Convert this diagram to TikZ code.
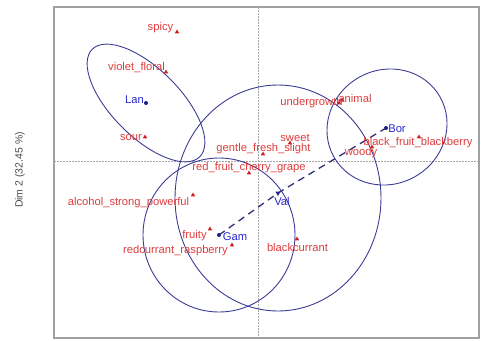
\documentclass[tikz,border=0pt]{standalone}
\usepackage{fontspec}
\setmainfont{Liberation Sans}
\usetikzlibrary{shapes.geometric}
\definecolor{labred}{RGB}{222,60,60}
\definecolor{ptred}{RGB}{200,30,30}
\definecolor{labblue}{RGB}{40,40,205}
\definecolor{ellblue}{RGB}{60,60,150}
\definecolor{framegray}{RGB}{160,160,160}
\tikzset{
  lab/.style={text=labred, font=\fontsize{11.2}{12}\selectfont, inner sep=0pt},
  blab/.style={text=labblue, font=\fontsize{11.2}{12}\selectfont, inner sep=0pt},
  tri/.style={regular polygon, regular polygon sides=3, fill=ptred, inner sep=0pt, minimum size=5pt},
  dotpt/.style={circle, fill=labblue!70!black, inner sep=0pt, minimum size=4pt},
  valpt/.style={regular polygon, regular polygon sides=3, shape border rotate=180, fill=labblue!70!black, inner sep=0pt, minimum size=6pt},
  ell/.style={draw=ellblue, line width=0.9pt},
  dashline/.style={draw=ellblue!80!black, line width=1.3pt, dash pattern=on 7pt off 5pt},
  refline/.style={draw=gray!70, line width=0.6pt, dash pattern=on 1.5pt off 1.5pt},
  framebox/.style={draw=framegray, line width=1.5pt}
}
\begin{document}
\begin{tikzpicture}[x=1pt,y=-1pt]
\useasboundingbox (0,0) rectangle (481,340);
% frame and reference lines
\draw[framebox] (54,7) rectangle (479,338);
\draw[refline] (258,7) -- (258,338);
\draw[refline] (54,161.5) -- (479,161.5);
% axis label
\node[text=gray!60!black, font=\fontsize{10.5}{11}\selectfont, rotate=90, inner sep=0pt] (ylab) at (20,170) {Dim 2 (32.45 \%)};
% group points
\node[dotpt] (lan) at (146,103) {};
\node[dotpt] (bor) at (386,128) {};
\node[dotpt] (gam) at (219,235) {};
\node[valpt] (val) at (278,193) {};
% ellipses
\draw[ell, rotate around={-45:(146,103)}] (146,103) ellipse [x radius=76pt, y radius=34pt];
\draw[ell, rotate around={30:(387,127)}] (387,127) ellipse [x radius=61pt, y radius=57pt];
\draw[ell] (278,198) ellipse [x radius=103pt, y radius=113pt];
\draw[ell] (219,235) ellipse [x radius=76pt, y radius=77pt];
% dashed path
\draw[dashline] (gam.center) -- (val.center) -- (bor.center);
% attribute points
\node[tri] (p-spicy) at (177,32) {};
\node[tri] (p-violet) at (166,72) {};
\node[tri] (p-sour) at (145,137) {};
\node[tri] (p-under) at (339,103) {};
\node[tri] (p-animal) at (342,100) {};
\node[tri] (p-black) at (419,137) {};
\node[tri] (p-woody) at (372,147) {};
\node[tri] (p-sweet) at (290,143) {};
\node[tri] (p-gentle) at (263,154) {};
\node[tri] (p-red) at (249,173) {};
\node[tri] (p-alcohol) at (193,195) {};
\node[tri] (p-fruity) at (210,229) {};
\node[tri] (p-redcur) at (232,245) {};
\node[tri] (p-blackcur) at (297,239) {};
% labels
\node[lab] (l-spicy) at (160.5,28) {spicy};
\node[lab] (l-violet) at (136.5,68) {violet\_floral};
\node[lab] (l-sour) at (131,138) {sour};
\node[lab] (l-under) at (311.5,103) {undergrowth};
\node[lab] (l-animal) at (355,98) {animal};
\node[lab] (l-black) at (418,143) {black\_fruit\_blackberry};
\node[lab] (l-woody) at (361,153) {woody};
\node[lab] (l-sweet) at (295,138) {sweet};
\node[lab] (l-gentle) at (263.5,149) {gentle\_fresh\_slight};
\node[lab] (l-red) at (249,168) {red\_fruit\_cherry\_grape};
\node[lab] (l-alcohol) at (128.5,203) {alcohol\_strong\_powerful};
\node[lab] (l-fruity) at (194.5,236) {fruity};
\node[lab] (l-redcur) at (175.5,251) {redcurrant\_raspberry};
\node[lab] (l-blackcur) at (297.5,247) {blackcurrant};
\node[blab] (l-lan) at (134.5,100) {Lan};
\node[blab] (l-bor) at (397,129) {Bor};
\node[blab] (l-gam) at (235,237) {Gam};
\node[blab] (l-val) at (282,201) {Val};
\end{tikzpicture}
\end{document}
